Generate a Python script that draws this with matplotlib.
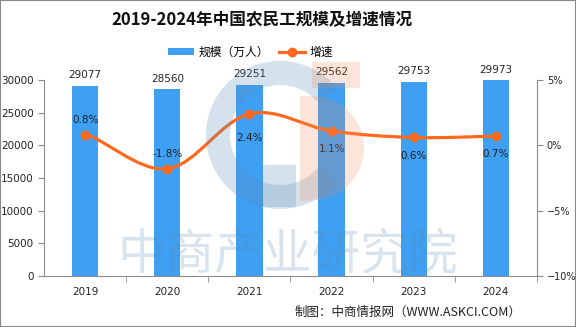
import matplotlib
matplotlib.use("Agg")
import matplotlib.pyplot as plt
from matplotlib.path import Path
from matplotlib.patches import PathPatch, Wedge, Rectangle

plt.rcParams['font.family'] = ['Noto Sans CJK SC', 'DejaVu Sans']

# ---- data ----
years = ['2019', '2020', '2021', '2022', '2023', '2024']
scale = [29077, 28560, 29251, 29562, 29753, 29973]   # 万人
growth = [0.8, -1.8, 2.4, 1.1, 0.6, 0.7]             # %
growth_labels = ['0.8%', '-1.8%', '2.4%', '1.1%', '0.6%', '0.7%']

bar_color = '#3f9ff2'
line_color = '#ff6a1f'
axis_gray = '#8c8c8c'

fig = plt.figure(figsize=(5.76, 3.27), dpi=100)
ax = fig.add_axes([44 / 576, 1 - 276 / 327, (537 - 44) / 576, (276 - 80) / 327])
ax2 = ax.twinx()

x = list(range(len(years)))
ax.bar(x, scale, width=0.32, color=bar_color, zorder=2, label='规模（万人）')
for xi, v in zip(x, scale):
    ax.annotate(str(v), (xi, v), xytext=(0, 4), textcoords='offset points',
                ha='center', va='bottom', fontsize=7.5, color='#222222',
                family='DejaVu Sans')

ax.set_xlim(-0.5, len(years) - 0.5)
ax.set_ylim(0, 30000)
ax.set_yticks(range(0, 30001, 5000))
ax.set_xticks(x)
ax.set_xticklabels(years)
ax.set_xticks([i + 0.5 for i in range(len(years))], minor=True)
ax.tick_params(axis='x', which='major', length=0, pad=8, labelsize=7.5, labelcolor='#222222')
ax.tick_params(axis='x', which='minor', length=4, color=axis_gray)
ax.tick_params(axis='y', length=4, color=axis_gray, labelsize=7.5, labelcolor='#222222')
for lab in ax.get_xticklabels() + ax.get_yticklabels():
    lab.set_family('DejaVu Sans')
for s in ['top', 'right']:
    ax.spines[s].set_visible(False)
ax.spines['left'].set_color(axis_gray)
ax.spines['bottom'].set_color(axis_gray)

# growth line, smoothed with bezier segments through the points
ax2.set_ylim(-10, 5)
ax2.set_yticks([-10, -5, 0, 5])
ax2.set_yticklabels(['−10%', '−5%', '0%', '5%'])
ax2.tick_params(axis='y', length=4, pad=3, color=axis_gray, labelsize=7, labelcolor='#222222')
for lab in ax2.get_yticklabels():
    lab.set_family('DejaVu Sans')
for s in ['top', 'left', 'bottom']:
    ax2.spines[s].set_visible(False)
ax2.spines['right'].set_color(axis_gray)

pts = list(zip(x, growth))
verts = [pts[0]]
codes = [Path.MOVETO]
k = 0.35
for i in range(len(pts) - 1):
    p0 = pts[max(i - 1, 0)]
    p1 = pts[i]
    p2 = pts[i + 1]
    p3 = pts[min(i + 2, len(pts) - 1)]
    c1 = (p1[0] + (p2[0] - p0[0]) * k / 2, p1[1] + (p2[1] - p0[1]) * k / 2 if i > 0 else p1[1])
    c2 = (p2[0] - (p3[0] - p1[0]) * k / 2, p2[1] - (p3[1] - p1[1]) * k / 2 if i + 2 < len(pts) else p2[1])
    verts += [c1, c2, p2]
    codes += [Path.CURVE4] * 3
ax2.add_patch(PathPatch(Path(verts, codes), fill=False, edgecolor=line_color, lw=2.3, zorder=3))
ax2.plot(x, growth, 'o', color=line_color, markersize=6, zorder=4)
ax2.plot([], [], '-o', color=line_color, lw=2.3, markersize=6, label='增速')

label_dy = [7, 7, -17, -13, -13, -13]
for xi, g, t, dy in zip(x, growth, growth_labels, label_dy):
    ax2.annotate(t, (xi, g), xytext=(0, dy), textcoords='offset points',
                 ha='center', va='bottom' if dy > 0 else 'center',
                 fontsize=7.5, color='#222222', family='DejaVu Sans')

# legend
h1, l1 = ax.get_legend_handles_labels()
h2, l2 = ax2.get_legend_handles_labels()
fig.legend(h1 + h2, l1 + l2, loc='center', bbox_to_anchor=(0.435, 1 - 52 / 327),
           ncol=2, frameon=False, fontsize=8.5, handlelength=2.2, handleheight=0.6,
           columnspacing=0.8, handletextpad=0.4)

fig.text(0.455, 1 - 20 / 327, '2019-2024年中国农民工规模及增速情况', ha='center', va='center',
         fontsize=12, fontweight='bold', color='#111111')
fig.text(408 / 576, 1 - 312 / 327, '制图：中商情报网（WWW.ASKCI.COM）', ha='center', va='center',
         fontsize=9, color='#222222')

# watermark overlay
wm = fig.add_axes([0, 0, 1, 1], zorder=5)
wm.set_xlim(0, 576)
wm.set_ylim(327, 0)
wm.axis('off')
wm.patch.set_alpha(0)
blue_wm = '#5b8db8'
orange_wm = '#f08a5a'
wm.add_patch(Wedge((280, 135), 74, 40, 320, width=24, color=blue_wm, alpha=0.25, lw=0))
wm.add_patch(Rectangle((262, 165), 34, 42, color=blue_wm, alpha=0.25, lw=0))
wm.add_patch(Wedge((312, 148), 52, -90, 90, color=orange_wm, alpha=0.22, lw=0))
wm.add_patch(Rectangle((300, 96), 12, 105, color=orange_wm, alpha=0.22, lw=0))
wm.add_patch(Rectangle((312, 62), 48, 26, color=orange_wm, alpha=0.22, lw=0))
wm.text(288, 255, '中商产业研究院', ha='center', va='center', fontsize=35,
        fontweight='medium', color=blue_wm, alpha=0.24)

fig.patches.append(Rectangle((0, 0), 1, 1, transform=fig.transFigure, fill=False,
                             edgecolor='#888888', lw=1.5))

fig.savefig('out.png', dpi=100)
